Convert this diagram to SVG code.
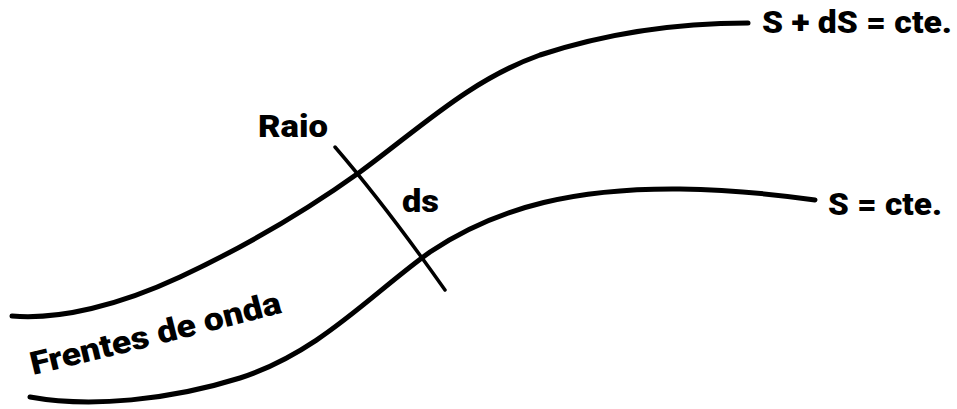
<svg xmlns="http://www.w3.org/2000/svg" width="957" height="409" viewBox="0 0 957 409">
<style>
.front{fill:none;stroke:#000;stroke-width:5;stroke-linecap:round;stroke-linejoin:round}
.ray{fill:none;stroke:#000;stroke-width:3.5;stroke-linecap:round}
.lbl{font-family:Roboto,"Liberation Sans",Arial,sans-serif;font-weight:900;font-size:32px;fill:#000}
</style>
<defs>
<path id="tp" d="M33,375 Q160,345 292,310"/>
</defs>
<rect width="957" height="409" fill="#fff"/>
<g id="connectors">
<path id="front-upper" class="front" d="M12,316 C60,320 120,305 180,277 C240,249 300,215 360,172 C420,128 470,80 540,55 C610,32 680,23 748,23"/>
<path id="front-lower" class="front" d="M30,397 C90,408 170,400 240,378 C320,352 370,295 430,252 C500,205 580,188 680,189 C740,190 780,195 815,200"/>
<path id="raio-line" class="ray" d="M335,147 Q385,205 445,290"/>
</g>
<g id="label-sds"><text class="lbl" x="762" y="33" textLength="190" lengthAdjust="spacingAndGlyphs">S + dS = cte.</text></g>
<g id="label-s"><text class="lbl" x="828" y="215" textLength="114" lengthAdjust="spacingAndGlyphs">S = cte.</text></g>
<g id="label-raio"><text class="lbl" x="258" y="137" textLength="70" lengthAdjust="spacingAndGlyphs">Raio</text></g>
<g id="label-ds"><text class="lbl" x="402" y="212" textLength="37" lengthAdjust="spacingAndGlyphs">ds</text></g>
<g id="label-frentes"><text class="lbl" font-size="36"><textPath href="#tp" textLength="258" lengthAdjust="spacingAndGlyphs">Frentes de onda</textPath></text></g>
</svg>
